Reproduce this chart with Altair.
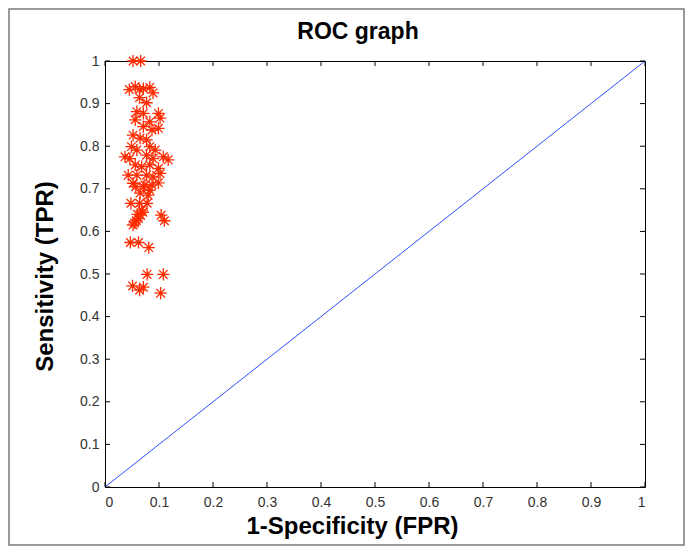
import altair as alt
import pandas as pd

# FPR / TPR points
fpr = [0.052, 0.066,
       0.045, 0.056, 0.064, 0.071, 0.083, 0.089,
       0.064, 0.077,
       0.059, 0.071, 0.099, 0.102, 0.056, 0.083,
       0.071, 0.087, 0.099,
       0.052, 0.065, 0.077,
       0.083, 0.093, 0.049, 0.059,
       0.037, 0.046, 0.077, 0.089, 0.108, 0.117,
       0.056, 0.068, 0.083, 0.099,
       0.043, 0.059, 0.077, 0.089, 0.102,
       0.052, 0.071, 0.087,
       0.057, 0.074, 0.083, 0.099,
       0.065, 0.080,
       0.048, 0.064, 0.078,
       0.052, 0.058, 0.062, 0.066, 0.070, 0.055, 0.060, 0.068,
       0.104, 0.110,
       0.047, 0.062, 0.081,
       0.078, 0.108,
       0.051, 0.064, 0.071, 0.103]
tpr = [1.000, 1.000,
       0.933, 0.940, 0.933, 0.935, 0.938, 0.925,
       0.914, 0.902,
       0.881, 0.877, 0.877, 0.866, 0.862, 0.857,
       0.846, 0.838, 0.842,
       0.826, 0.819, 0.815,
       0.799, 0.791, 0.799, 0.791,
       0.775, 0.771, 0.779, 0.771, 0.775, 0.768,
       0.756, 0.752, 0.756, 0.748,
       0.732, 0.732, 0.732, 0.728, 0.736,
       0.713, 0.705, 0.709,
       0.705, 0.709, 0.697, 0.714,
       0.690, 0.685,
       0.666, 0.666, 0.666,
       0.615, 0.625, 0.630, 0.638, 0.645, 0.620, 0.640, 0.650,
       0.638, 0.625,
       0.574, 0.574, 0.562,
       0.499, 0.499,
       0.472, 0.462, 0.469, 0.455]

diag_x = [0.0, 1.0]
diag_y = [0.0, 1.0]
ticks = [0.0, 0.1, 0.2, 0.3, 0.4, 0.5, 0.6, 0.7, 0.8, 0.9, 1.0]
chart_title = ["ROC graph"]

W, H = 540, 426
FONT = "Liberation Sans"

pts = pd.DataFrame({"fpr": fpr, "tpr": tpr})
diag = pd.DataFrame({"fpr": diag_x, "tpr": diag_y})
tk = pd.DataFrame({"t": ticks})
ttl = pd.DataFrame({"label": chart_title})

xs = alt.Scale(domain=[0, 1], nice=False, zero=False)
ys = alt.Scale(domain=[0, 1], nice=False, zero=False)

xaxis = alt.Axis(values=ticks, format="~g", ticks=False, domain=False, grid=False,
                 labelFont=FONT, labelFontSize=14, labelColor="#333", labelPadding=8,
                 title="1-Specificity (FPR)", titleFont=FONT, titleFontSize=24,
                 titleFontWeight="bold", titleColor="#000",
                 titleX=247, titleY=39, titleBaseline="middle", titleAnchor="middle")
yaxis = alt.Axis(values=ticks, format="~g", ticks=False, domain=False, grid=False,
                 labelFont=FONT, labelFontSize=14, labelColor="#333", labelPadding=6,
                 title="Sensitivity (TPR)", titleFont=FONT, titleFontSize=24,
                 titleFontWeight="bold", titleColor="#000",
                 titleX=-60, titleY=215, titleAngle=270, titleBaseline="middle",
                 titleAlign="center")

diag_line = alt.Chart(diag).mark_line(color="#2f4dff", strokeWidth=1).encode(
    x=alt.X("fpr:Q", scale=xs, axis=xaxis),
    y=alt.Y("tpr:Q", scale=ys, axis=yaxis),
)

star = "M0,-1L0,1M-1,0L1,0M-0.7,-0.7L0.7,0.7M-0.7,0.7L0.7,-0.7"
points = alt.Chart(pts).mark_point(shape=star, filled=False, color="#ff2a00",
                                   size=150, strokeWidth=1.3, opacity=1).encode(
    x=alt.X("fpr:Q", scale=xs),
    y=alt.Y("tpr:Q", scale=ys),
)

tick_len = 5
bottom_ticks = alt.Chart(tk).mark_rule(color="#000", strokeWidth=1).encode(
    x=alt.X("t:Q", scale=xs), y=alt.value(H), y2=alt.value(H - tick_len))
top_ticks = alt.Chart(tk).mark_rule(color="#000", strokeWidth=1).encode(
    x=alt.X("t:Q", scale=xs), y=alt.value(0), y2=alt.value(tick_len))
left_ticks = alt.Chart(tk).mark_rule(color="#000", strokeWidth=1).encode(
    y=alt.Y("t:Q", scale=ys), x=alt.value(0), x2=alt.value(tick_len))
right_ticks = alt.Chart(tk).mark_rule(color="#000", strokeWidth=1).encode(
    y=alt.Y("t:Q", scale=ys), x=alt.value(W), x2=alt.value(W - tick_len))

frame = alt.Chart(pd.DataFrame({"a": [0]})).mark_rect(
    fill=None, stroke="#7a7a7a", strokeWidth=1.5).encode(
    x=alt.value(-96), x2=alt.value(579), y=alt.value(-52), y2=alt.value(484))

title_text = alt.Chart(ttl).mark_text(
    font=FONT, fontSize=23, fontWeight="bold", color="#000",
    align="center", baseline="middle").encode(
    text="label:N", x=alt.value(253), y=alt.value(-29))

chart = alt.layer(frame, diag_line, points, bottom_ticks, top_ticks, left_ticks,
                  right_ticks, title_text).properties(
    width=W, height=H,
    autosize=alt.AutoSizeParams(type="none"),
    padding={"left": 97, "top": 53, "right": 40, "bottom": 60},
    background="white",
).configure_view(stroke="#000", strokeWidth=1)

chart.save("out.html", embed_options={"renderer": "svg", "actions": False})
